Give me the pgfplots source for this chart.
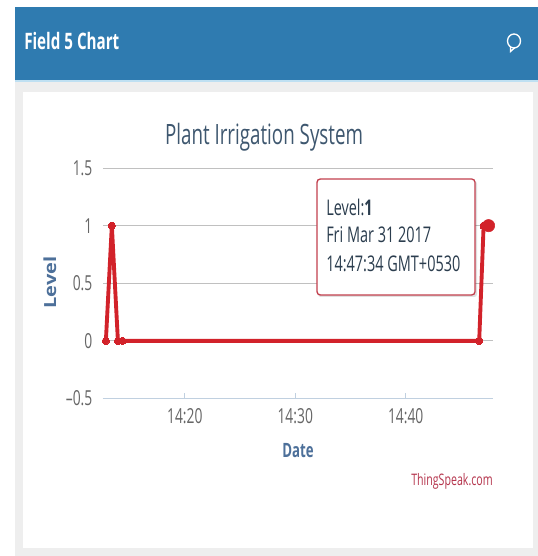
\documentclass[border=0pt]{standalone}
\usepackage{pgfplots}
\pgfplotsset{compat=1.18}
\usepackage{fontspec}
\setmainfont[FakeStretch=0.67]{Open Sans}
\newfontfamily\widefont[FakeStretch=1.2]{Open Sans}
\definecolor{headblue}{HTML}{2F7BB0}
\definecolor{headline}{HTML}{BFE0F2}
\definecolor{panelgray}{HTML}{EEEEEE}
\definecolor{titlecol}{HTML}{3E576F}
\definecolor{labelcol}{HTML}{4D709A}
\definecolor{tickcol}{HTML}{666666}
\definecolor{gridcol}{HTML}{C0C0C0}
\definecolor{axiscol}{HTML}{C0D0E0}
\definecolor{linered}{HTML}{D2222A}
\definecolor{tipred}{HTML}{C2404E}
\definecolor{speakred}{HTML}{B5344C}
% 1 unit = 1 px of the reference, y counted up from the bottom
\tikzset{px/.style={x=0.75pt,y=0.75pt}}
\begin{document}
\begin{tikzpicture}
\begin{scope}[px]
\fill[white] (0,0) rectangle (538,556);
\fill[panelgray] (15,0) rectangle (538,475);
\fill[headblue] (15,475) rectangle (538,549);
\fill[headline] (15,474) rectangle (538,475.5);
\fill[white] (23,8) rectangle (533,464);
\node[anchor=west,text=white,font=\fontsize{17pt}{19pt}\selectfont\bfseries,inner sep=0pt] at (24,515) {Field 5 Chart};
\draw[white,line width=1pt] (514,515) ellipse (6.5 and 7);
\draw[white,line width=1pt] (510.5,509.5) -- (510.5,504.5) -- (515,508.5);
\end{scope}
\begin{axis}[
  at={(77.25pt,118.1pt)},anchor=south west,
  scale only axis,width=292.5pt,height=172.9pt,
  xmin=12.6,xmax=47.9,ymin=-0.5,ymax=1.5,
  clip=false,
  axis x line*=bottom,axis y line*=left,
  x axis line style={draw=axiscol,line width=0.9pt,-},
  y axis line style={draw=none,-},
  xtick={20,30,40},xticklabels={14:20,14:30,14:40},
  ytick={-0.5,0,0.5,1,1.5},yticklabels={--0.5,0,0.5,1,1.5},
  ymajorgrids,
  grid style={gridcol,line width=0.7pt},
  xtick style={draw=axiscol,line width=0.6pt},
  ytick style={draw=none},
  major tick length=4.5pt,
  tick label style={font=\fontsize{15.5pt}{17pt}\selectfont,text=tickcol},
  xticklabel style={yshift=-4pt},
  yticklabel style={xshift=-4.5pt},
  title={Plant Irrigation System},
  title style={font=\fontsize{21pt}{23pt}\selectfont,text=titlecol,at={(axis description cs:0.413,1.10)},anchor=center,inner sep=0pt},
  xlabel={Date},ylabel={\widefont\bfseries Level},
  xlabel style={font=\fontsize{14.8pt}{16pt}\selectfont\bfseries,text=labelcol,at={(axis description cs:0.5,-0.226)},anchor=center,inner sep=0pt},
  ylabel style={font=\fontsize{12.5pt}{14pt}\selectfont,text=labelcol,at={(axis description cs:-0.136,0.504)},anchor=center,inner sep=0pt},
]
\addplot[linered,line width=2.9pt,line join=round,mark=*,mark size=2.7pt,mark options={line width=0pt,fill=linered}] coordinates {
(12.86,0) (13.40,1) (13.95,0) (14.35,0) (46.65,0) (47.05,1) (47.45,1)};
\addplot[only marks,mark=*,mark size=4.6pt,mark options={draw=linered,fill=linered}] coordinates {(47.5,1)};
\end{axis}
\begin{scope}[px]
\fill[black,opacity=0.12,rounded corners=2pt] (318,259) rectangle (477,375);
\draw[tipred,fill=white,line width=1pt,rounded corners=2.5pt] (317,261) rectangle (475,377);
\node[anchor=west,text=titlecol!70!black,font=\fontsize{16.2pt}{18pt}\selectfont,inner sep=0pt] at (326,349) {Level:\textbf{1}};
\node[anchor=west,text=titlecol!70!black,font=\fontsize{16.2pt}{18pt}\selectfont,inner sep=0pt] at (326,321) {Fri Mar 31 2017};
\node[anchor=west,text=titlecol!70!black,font=\fontsize{16.2pt}{18pt}\selectfont,inner sep=0pt] at (326,292) {14:47:34 GMT+0530};
\node[anchor=east,text=speakred,font=\fontsize{11.9pt}{13pt}\selectfont,inner sep=0pt] at (493,75) {ThingSpeak.com};
\end{scope}
\end{tikzpicture}
\end{document}
